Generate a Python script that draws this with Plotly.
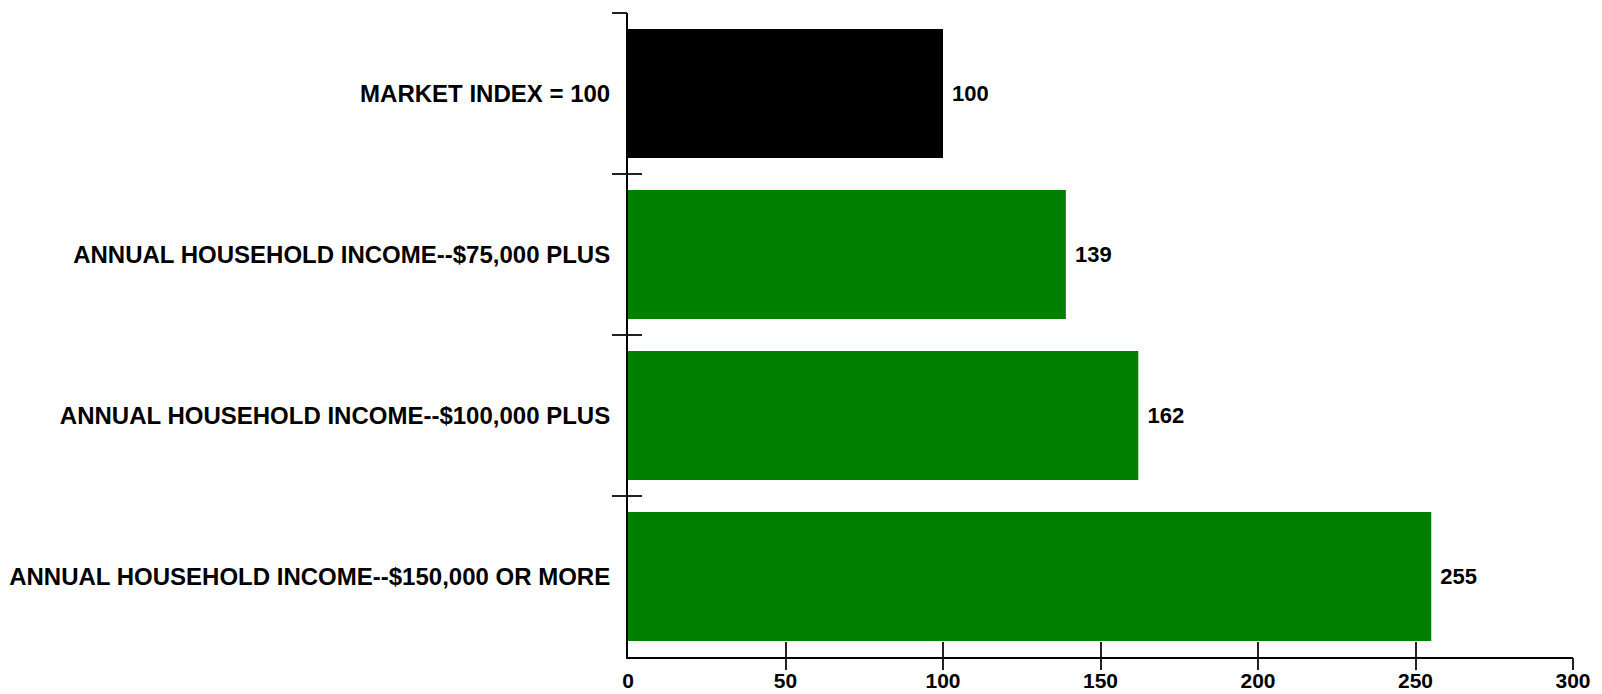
import plotly.graph_objects as go

categories = [
    "MARKET INDEX = 100",
    "ANNUAL HOUSEHOLD INCOME--$75,000 PLUS",
    "ANNUAL HOUSEHOLD INCOME--$100,000 PLUS",
    "ANNUAL HOUSEHOLD INCOME--$150,000 OR MORE",
]
values = [100, 139, 162, 255]
bar_colors = ["#000000", "#008000", "#008000", "#008000"]
x_ticks = [0, 50, 100, 150, 200, 250, 300]
x_marks = [50, 100, 150, 200, 250, 300]
y_marks = [-0.5, 0.5, 1.5, 2.5]

FONT = "Liberation Sans, Arial, sans-serif"
BFONT = dict(family=FONT, size=22, color="#000000", weight="bold")
XFONT = dict(family=FONT, size=21, color="#000000", weight="bold")
YFONT = dict(family=FONT, size=24, color="#000000", weight="bold")

fig = go.Figure()
fig.add_trace(go.Bar(
    x=values, y=categories, orientation="h",
    marker=dict(color=bar_colors, line=dict(width=0)),
    text=["\u00a0" + str(v) for v in values],
    textposition="outside", cliponaxis=False,
    textfont=BFONT,
    hoverinfo="skip",
))
# empty helper traces so the overlay tick axes get drawn
for xa, ya in [("x2", "y"), ("x3", "y"), ("x", "y2"), ("x", "y3")]:
    fig.add_trace(go.Scatter(x=[None], y=[None], xaxis=xa, yaxis=ya,
                             mode="markers", showlegend=False, hoverinfo="skip"))

tick_common = dict(showticklabels=False, showgrid=False, zeroline=False,
                   showline=False, tickwidth=2, tickcolor="#222222",
                   automargin=False, fixedrange=True)

fig.update_layout(
    width=1594, height=686,
    margin=dict(l=620, r=29, t=5, b=37, autoexpand=False),
    paper_bgcolor="white", plot_bgcolor="white",
    bargap=0.2, showlegend=False,
    font=BFONT,
    xaxis=dict(
        range=[0, 300], tickvals=x_ticks, showgrid=False, zeroline=False,
        showline=True, linecolor="#000000", linewidth=2,
        ticks="outside", ticklen=4, tickcolor="rgba(0,0,0,0)",
        tickfont=XFONT, automargin=False, fixedrange=True,
    ),
    yaxis=dict(
        range=[3.5, -0.5], showgrid=False, zeroline=False,
        showline=True, linecolor="#000000", linewidth=2,
        ticks="outside", ticklen=11, tickcolor="rgba(0,0,0,0)",
        tickfont=YFONT, automargin=False, fixedrange=True,
    ),
    xaxis2=dict(overlaying="x", anchor="y", side="bottom", range=[0, 300],
                tickvals=x_marks, ticks="outside", ticklen=12, **tick_common),
    xaxis3=dict(overlaying="x", anchor="y", side="bottom", range=[0, 300],
                tickvals=x_marks, ticks="inside", ticklen=15, **tick_common),
    yaxis2=dict(overlaying="y", anchor="x", side="left", range=[3.5, -0.5],
                tickvals=y_marks, ticks="outside", ticklen=15, **tick_common),
    yaxis3=dict(overlaying="y", anchor="x", side="left", range=[3.5, -0.5],
                tickvals=y_marks, ticks="inside", ticklen=14, **tick_common),
)

fig.write_html("out.html")
